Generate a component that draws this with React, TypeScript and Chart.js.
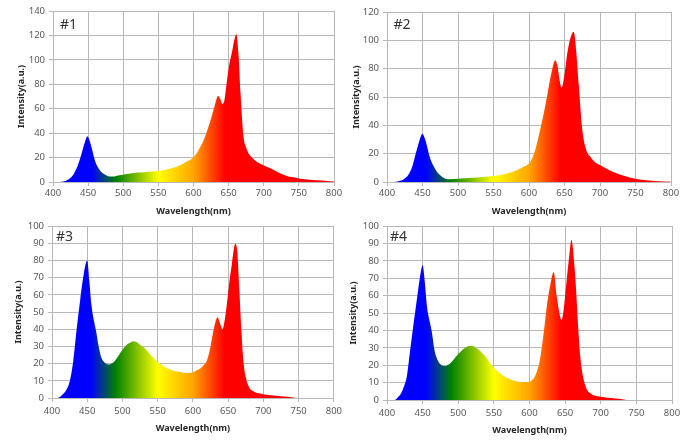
import React, { useEffect, useRef } from 'react';
import { Chart, registerables } from 'chart.js';

Chart.register(...registerables);

// ---------- data ----------
const wl1 = [410,415,420,425,430,435,440,445,449,452,455,460,465,470,475,480,485,490,495,500,505,510,515,520,530,540,550,560,570,575,580,585,590,595,600,605,610,615,620,625,630,635,638,641,644,647,650,655,658,661,664,667,671,675,679,685,690,700,710,720,733,740,752,765,776,790,800];
const in1 = [0,0.5,1.5,3.5,7,13,22,32,37.5,34,28,17,11,7.5,5.8,4.6,4.5,5,5.5,6,6.5,7,7.4,7.7,8,8.5,9,10,11.5,12.3,13.5,15,16.5,18,20.5,24,29,35,43,52,62,70.5,68,64,67,80,93,107,116,121,105,72,38,28,23,19,16.5,13.5,11,8,5,4,2.7,1.8,1.4,0.8,0.5];

const wl2 = [410,415,420,425,430,435,440,445,450,453,456,460,465,470,475,480,485,490,500,510,520,535,550,565,575,585,592,600,605,609,613,618,623,628,632,637,640,643,646,650,654,658,663,666,670,675,681,687,693,700,712,724,736,748,759,770,783,800];
const in2 = [0,0.3,1,2.5,5,10,19,28,34,31,26,18,11.8,7.5,4.7,2.8,2,2,2.3,2.7,3,3.5,4.2,5.5,6.8,8.8,10.6,13,17.5,23,31,42,54,68,78,86,82,72,66.6,76,91,101,106,95,69,37,22,17.5,14,12,8.7,6,4,2.5,1.6,1,0.5,0.2];

const wl3 = [405,410,415,420,425,430,435,440,445,450,453,456,460,463,466,470,475,480,485,490,495,500,505,510,515,520,525,530,535,540,545,550,555,560,565,570,575,580,585,590,595,600,605,610,615,620,625,630,635,638,642,645,648,651,655,660,663,666,669,672,675,680,685,690,700,710,720,730,740,745];
const in3 = [0,0.3,2,4.5,9.5,21,40,57,72,80,68,54,44,38,30.5,23.5,20.5,19.5,20,22,25,28,30.5,32,32.8,32.5,31,29.5,27.5,25,23,21,19.5,18,17,16.2,15.6,15.2,14.8,14.6,14.6,15,16,17,19,22,30,41,47,44,40,45,54,65,77,89.5,85,62,38,20,12,6,4,3,2.2,1.6,1.2,0.8,0.4,0.1];

const wl4 = [410,413,416,420,424,428,432,437,442,446,450,453,456,460,463,467,471,475,480,485,490,495,500,505,510,515,520,525,530,535,540,545,550,555,560,565,570,575,580,585,590,595,600,605,610,615,620,625,630,634,638,641,645,648,651,655,659,662,665,668,671,674,680,685,690,700,710,720,730,735];
const in4 = [0,0.5,1.8,4,8,14,27,43,58,70,77.5,68,54,45,39,28,23,20.5,19.5,20,21.5,24,26.5,28.5,30,31,31,30,28.5,26.5,24,21,18.5,16.5,15,13.5,12.5,11.5,10.9,10.5,10.3,10.4,10.5,12,16,24,39,56,68,73.5,60,52,46,52,64,80,92,82,66,44,26,16,6.5,4,2.7,1.8,1.3,0.9,0.5,0.1];

const panelTags = ['#1', '#2', '#3', '#4'];
const yMaxes = [140, 120, 100, 100];
const ySteps = [20, 20, 10, 10];
const xMin = 400;
const xMax = 800;
const xStep = 50;
const xTitle = 'Wavelength(nm)';
const yTitle = 'Intensity(a.u.)';

// spectral gradient stops (wavelength -> colour)
const gradWl = [455, 490, 550, 600, 645];
const gradColors = ['#0000ff', '#008000', '#ffff00', '#ffa500', '#ff0000'];

const SERIES = [
  { wl: wl1, values: in1 },
  { wl: wl2, values: in2 },
  { wl: wl3, values: in3 },
  { wl: wl4, values: in4 },
];

// ---------- layout ----------
const LAYOUT = [
  { left: 0, top: 0, w: 346, h: 221, padTop: 11, padRight: 12, yWidth: 53, xHeight: 39, xTickPad: 1.3, xTitlePad: 4.6, yTitlePad: 15.6, tagX: 60, tagY: 24 },
  { left: 346, top: 0, w: 347, h: 221, padTop: 12, padRight: 22, yWidth: 41, xHeight: 39, xTickPad: 1.3, xTitlePad: 4.6, yTitlePad: 4.6, tagX: 393.5, tagY: 24 },
  { left: 0, top: 216, w: 346, h: 226, padTop: 10, padRight: 12, yWidth: 52, xHeight: 44, xTickPad: 4, xTitlePad: 8.6, yTitlePad: 12.9, tagX: 56, tagY: 236 },
  { left: 346, top: 216, w: 347, h: 226, padTop: 10, padRight: 21, yWidth: 41, xHeight: 42, xTickPad: 3.3, xTitlePad: 6.6, yTitlePad: 1.6, tagX: 390, tagY: 236 },
];

const GRID = '#b8b8b8';
const TICK_COLOR = '#595959';
const TITLE_COLOR = '#262626';
const FONT = "'Noto Sans', 'DejaVu Sans', sans-serif";

function Panel({ idx }: { idx: number }) {
  const ref = useRef<HTMLCanvasElement | null>(null);
  const L = LAYOUT[idx];
  useEffect(() => {
    if (!ref.current) return;
    const s = SERIES[idx];
    const chart = new Chart(ref.current, {
      type: 'line',
      data: {
        datasets: [
          {
            data: s.wl.map((x, i) => ({ x, y: s.values[i] })),
            fill: 'origin',
            borderWidth: 0,
            borderColor: 'rgba(0,0,0,0)',
            pointRadius: 0,
            cubicInterpolationMode: 'monotone',
            backgroundColor: (c: any) => {
              const ch = c.chart;
              if (!ch.chartArea) return 'rgba(0,0,0,0)';
              const xs = ch.scales.x;
              const x0 = xs.getPixelForValue(xMin);
              const x1 = xs.getPixelForValue(xMax);
              const g = ch.ctx.createLinearGradient(x0, 0, x1, 0);
              gradWl.forEach((w, i) => g.addColorStop((w - xMin) / (xMax - xMin), gradColors[i]));
              return g;
            },
          } as any,
        ],
      },
      options: {
        responsive: false,
        animation: false,
        events: [],
        layout: { padding: { top: L.padTop, right: L.padRight, left: 0, bottom: 0 } },
        plugins: { legend: { display: false }, tooltip: { enabled: false } },
        scales: {
          x: {
            type: 'linear',
            min: xMin,
            max: xMax,
            ticks: { stepSize: xStep, color: TICK_COLOR, font: { family: FONT, size: 9.5 }, padding: L.xTickPad, maxRotation: 0, autoSkip: false },
            grid: { color: GRID, tickLength: 4, lineWidth: 1 },
            border: { color: GRID },
            title: { display: true, text: xTitle, color: TITLE_COLOR, font: { family: FONT, size: 9, weight: 'bold' }, padding: { top: 0, bottom: L.xTitlePad } },
            afterFit: (sc: any) => { sc.height = L.xHeight; },
          },
          y: {
            type: 'linear',
            min: 0,
            max: yMaxes[idx],
            ticks: { stepSize: ySteps[idx], color: TICK_COLOR, font: { family: FONT, size: 9.5 }, padding: 4 },
            grid: { color: GRID, tickLength: 4, lineWidth: 1 },
            border: { color: GRID },
            title: { display: true, text: yTitle, color: TITLE_COLOR, font: { family: FONT, size: 9, weight: 'bold' }, padding: { top: L.yTitlePad, bottom: 0 } },
            afterFit: (sc: any) => { sc.width = L.yWidth; },
          },
        },
      } as any,
    });
    return () => chart.destroy();
  }, [idx]);
  return (
    <>
      <canvas
        ref={ref}
        width={L.w}
        height={L.h}
        style={{ position: 'absolute', left: L.left, top: L.top, width: L.w, height: L.h }}
      />
      <div
        style={{
          position: 'absolute',
          left: L.tagX,
          top: L.tagY,
          transform: 'translateY(-50%)',
          fontFamily: FONT,
          fontSize: 14,
          lineHeight: 1,
          color: '#333333',
          whiteSpace: 'nowrap',
        }}
      >
        {panelTags[idx]}
      </div>
    </>
  );
}

export default function App() {
  return (
    <div style={{ position: 'absolute', left: 0, top: 0, width: 693, height: 442, background: '#ffffff' }}>
      {[0, 1, 2, 3].map((i) => (
        <Panel key={i} idx={i} />
      ))}
    </div>
  );
}
